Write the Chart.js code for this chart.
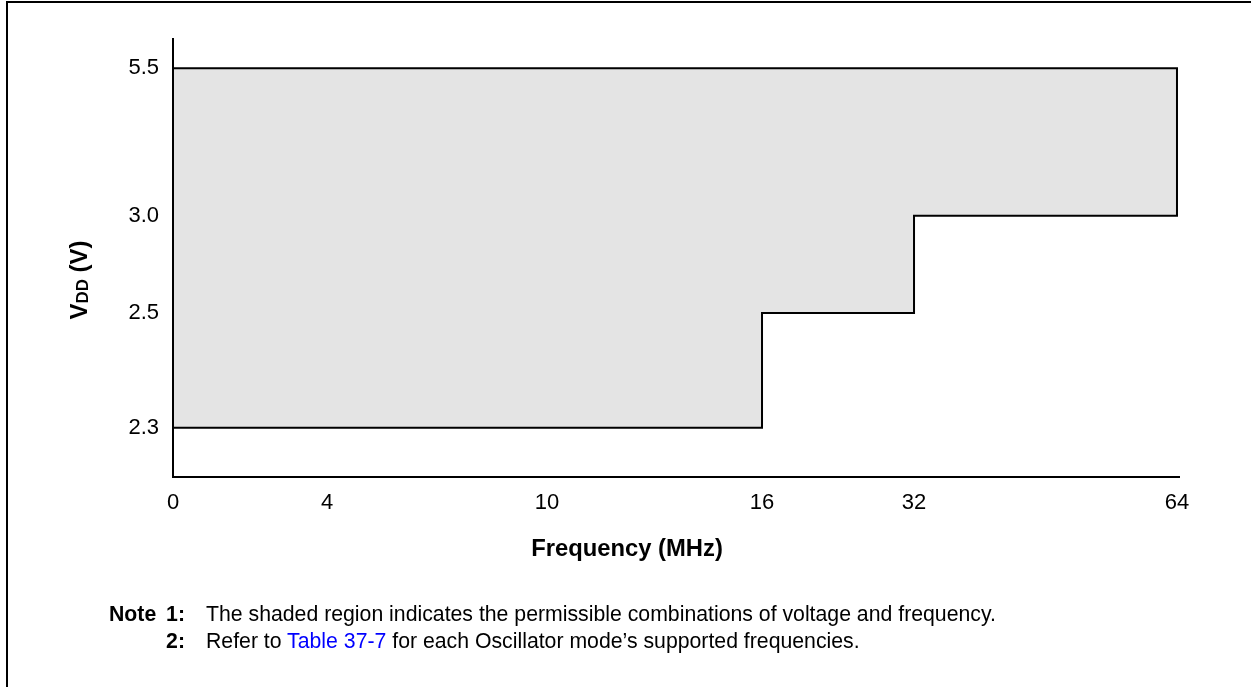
<!DOCTYPE html>
<html>
<head>
<meta charset="utf-8">
<script src="https://cdn.jsdelivr.net/npm/chart.js@4.4.1/dist/chart.umd.min.js"></script>
<style>
html,body{margin:0;padding:0;background:#fff;overflow:hidden;}
#stage{position:relative;width:1251px;height:687px;font-family:"Liberation Sans",Arial,Helvetica,sans-serif;overflow:hidden;}
#frame{position:absolute;left:6px;top:1px;width:1300px;height:700px;border-top:2px solid #000;border-left:2px solid #000;box-sizing:border-box;}
#wrap{position:absolute;left:0;top:0;width:1251px;height:687px;}
.note{position:absolute;font-size:21.25px;line-height:21px;color:#000;white-space:nowrap;}
.b{font-weight:bold;}
.r{text-align:right;left:0;}
.lnk{color:#0000ff;}
</style>
</head>
<body>
<div id="stage">
  <div id="frame"></div>
  <div id="wrap"><canvas id="c"></canvas></div>
  <div class="note b" style="left:109px;top:604px;">Note</div>
  <div class="note b r" style="width:185px;top:604px;">1:</div>
  <div class="note" style="left:206px;top:604px;">The shaded region indicates the permissible combinations of voltage and frequency.</div>
  <div class="note b r" style="width:185px;top:631px;">2:</div>
  <div class="note" style="left:206px;top:631px;">Refer to <span class="lnk">Table 37-7</span> for each Oscillator mode’s supported frequencies.</div>
</div>
<script>
// ---------- data ----------
const freqTicks = [0, 4, 10, 16, 32, 64];
const freqTickLabels = ['0', '4', '10', '16', '32', '64'];
const vddTicks = [2.3, 2.5, 3.0, 5.5];
const vddTickLabels = ['2.3', '2.5', '3.0', '5.5'];
const bandFreqEdges = [0, 16, 32, 64];   // MHz
const bandMinVdd = [2.3, 2.5, 3.0];       // V, minimum per frequency band
const bandMaxVdd = [5.5];                 // V, maximum
const xTitle = 'Frequency (MHz)';
const yTitleParts = ['V', 'DD', ' (V)'];

// ---------- layout (axis positions of the non-linear tick stops) ----------
const X_STOPS = [0, 0.1531, 0.3718, 0.5855, 0.7366, 0.998];
const Y_STOPS = [0.1126, 0.3744, 0.5966, 0.9331];
const FONT = "'Liberation Sans', Arial, Helvetica, sans-serif";

function interp(v, vals, fr) {
  const n = vals.length;
  let i = 0;
  if (v <= vals[0]) i = 0;
  else if (v >= vals[n - 1]) i = n - 2;
  else { while (v > vals[i + 1]) i++; }
  const t = (v - vals[i]) / (vals[i + 1] - vals[i]);
  return fr[i] + t * (fr[i + 1] - fr[i]);
}

class PiecewiseScale extends Chart.LinearScale {
  getPixelForValue(value) {
    const f = this.axis === 'x' ? interp(value, freqTicks, X_STOPS) : interp(value, vddTicks, Y_STOPS);
    return this.getPixelForDecimal(f);
  }
}
PiecewiseScale.id = 'piecewise';
PiecewiseScale.defaults = Chart.LinearScale.defaults;
Chart.register(PiecewiseScale);

// polygon of the permissible region built from the band data
const maxV = bandMaxVdd[0];
const lastF = bandFreqEdges[bandFreqEdges.length - 1];
const region = [{x: bandFreqEdges[0], y: maxV}, {x: lastF, y: maxV}];
for (let i = bandMinVdd.length - 1; i >= 0; i--) {
  region.push({x: bandFreqEdges[i + 1], y: bandMinVdd[i]});
  region.push({x: bandFreqEdges[i], y: bandMinVdd[i]});
}
region.push({x: bandFreqEdges[0], y: maxV});

const titlesPlugin = {
  id: 'titles',
  afterDraw(chart) {
    const ctx = chart.ctx;
    ctx.save();
    ctx.fillStyle = '#000';
    ctx.font = 'bold 23.8px ' + FONT;
    ctx.textAlign = 'center';
    ctx.textBaseline = 'alphabetic';
    ctx.fillText(xTitle, 627, 556);

    // rotated y title with smaller "DD"
    const big = 'bold 24px ' + FONT, small = 'bold 17px ' + FONT;
    const fonts = [big, small, big];
    let widths = yTitleParts.map((t, i) => { ctx.font = fonts[i]; return ctx.measureText(t).width; });
    const total = widths.reduce((a, b) => a + b, 0);
    ctx.translate(87, 280);
    ctx.rotate(-Math.PI / 2);
    ctx.textAlign = 'left';
    let x = -total / 2;
    yTitleParts.forEach((t, i) => {
      ctx.font = fonts[i];
      ctx.fillText(t, x, i === 1 ? 1 : 0);
      x += widths[i];
    });
    ctx.restore();
  }
};

const tickFont = {family: FONT, size: 22};

new Chart(document.getElementById('c'), {
  type: 'line',
  data: {
    datasets: [{
      data: region,
      borderColor: '#000',
      borderWidth: 2,
      backgroundColor: '#e4e4e4',
      fill: 'shape',
      pointRadius: 0,
      tension: 0,
      borderJoinStyle: 'miter'
    }]
  },
  options: {
    responsive: true,
    maintainAspectRatio: false,
    animation: false,
    events: [],
    layout: {padding: {top: 39, right: 72, left: 0, bottom: 0}},
    plugins: {legend: {display: false}, tooltip: {enabled: false}},
    scales: {
      x: {
        type: 'piecewise',
        min: freqTicks[0], max: freqTicks[freqTicks.length - 1],
        grid: {display: false, drawTicks: false},
        border: {display: true, color: '#000', width: 2},
        afterBuildTicks: s => { s.ticks = freqTicks.map(v => ({value: v})); },
        afterFit: s => { s.height = 210; },
        ticks: {autoSkip: false, maxRotation: 0, padding: 13, color: '#000', font: tickFont,
                callback: (v, i) => freqTickLabels[i]}
      },
      y: {
        type: 'piecewise',
        min: vddTicks[0], max: vddTicks[vddTicks.length - 1],
        grid: {display: false, drawTicks: false},
        border: {display: true, color: '#000', width: 2},
        afterBuildTicks: s => { s.ticks = vddTicks.map(v => ({value: v})); },
        afterFit: s => { s.width = 173; },
        ticks: {autoSkip: false, padding: 14, color: '#000', font: tickFont,
                callback: (v, i) => vddTickLabels[i]}
      }
    }
  },
  plugins: [titlesPlugin]
});
</script>
</body>
</html>
